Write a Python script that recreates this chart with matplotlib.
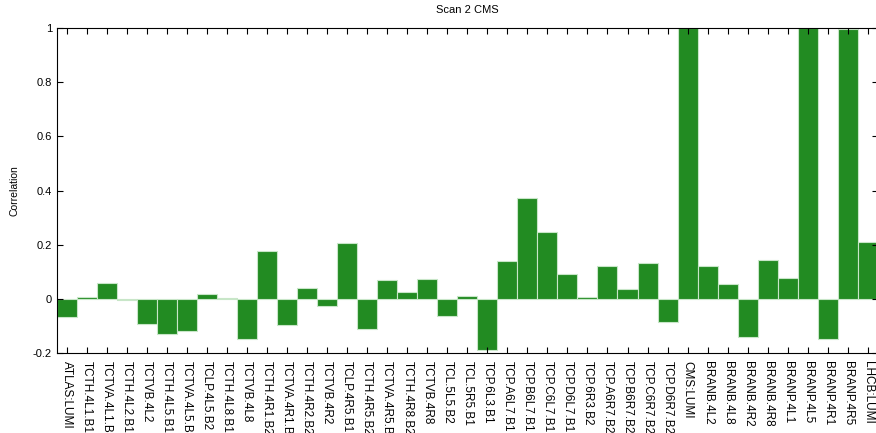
import matplotlib
matplotlib.use('Agg')
from matplotlib import pyplot as plt
import numpy as np

plt.rcParams['font.family'] = ['Liberation Sans', 'DejaVu Sans']

labels = ['ATLAS:LUMI', 'TCTH.4L1.B1', 'TCTVA.4L1.B1', 'TCTH.4L2.B1', 'TCTVB.4L2',
          'TCTH.4L5.B1', 'TCTVA.4L5.B1', 'TCLP.4L5.B2', 'TCTH.4L8.B1', 'TCTVB.4L8',
          'TCTH.4R1.B2', 'TCTVA.4R1.B2', 'TCTH.4R2.B2', 'TCTVB.4R2', 'TCLP.4R5.B1',
          'TCTH.4R5.B2', 'TCTVA.4R5.B2', 'TCTH.4R8.B2', 'TCTVB.4R8', 'TCL.5L5.B2',
          'TCL.5R5.B1', 'TCP.6L3.B1', 'TCP.A6L7.B1', 'TCP.B6L7.B1', 'TCP.C6L7.B1',
          'TCP.D6L7.B1', 'TCP.6R3.B2', 'TCP.A6R7.B2', 'TCP.B6R7.B2', 'TCP.C6R7.B2',
          'TCP.D6R7.B2', 'CMS:LUMI', 'BRANB.4L2', 'BRANB.4L8', 'BRANB.4R2',
          'BRANB.4R8', 'BRANP.4L1', 'BRANP.4L5', 'BRANP.4R1', 'BRANP.4R5', 'LHCB:LUMI']

corr = [-0.066, 0.005, 0.059, -0.005, -0.095,
        -0.13, -0.12, 0.017, 0.003, -0.147,
        0.175, -0.098, 0.04, -0.026, 0.205,
        -0.11, 0.07, 0.024, 0.072, -0.062,
        0.01, -0.19, 0.14, 0.373, 0.245,
        0.093, 0.008, 0.12, 0.036, 0.131,
        -0.085, 1.0, 0.12, 0.053, -0.14,
        0.143, 0.075, 1.0, -0.15, 0.995, 0.21]

fig = plt.figure(figsize=(8.76, 4.33), dpi=100)
ax = fig.add_axes([0.065, 0.185, 0.937, 0.75])

x = np.arange(len(labels))
ax.bar(x, corr, width=1.0, color='#228b22', edgecolor='#c8e6c8', linewidth=0.8)

ax.set_xlim(-0.5, len(labels) - 0.5)
ax.set_ylim(-0.2, 1.0)
ax.set_yticks([-0.2, 0, 0.2, 0.4, 0.6, 0.8, 1.0])
ax.set_yticklabels(['-0.2', '0', '0.2', '0.4', '0.6', '0.8', '1'], fontsize=8)
ax.set_xticks(x)
ax.set_xticklabels(labels, rotation=-90, fontsize=8.5)
ax.tick_params(direction='in', top=True, right=True, length=4)
ax.tick_params(axis='x', pad=6)

ax.set_ylabel('Correlation', fontsize=7.5, labelpad=10)
ax.set_title('Scan 2 CMS', fontsize=8, pad=11)

fig.savefig('out.png', dpi=100)
